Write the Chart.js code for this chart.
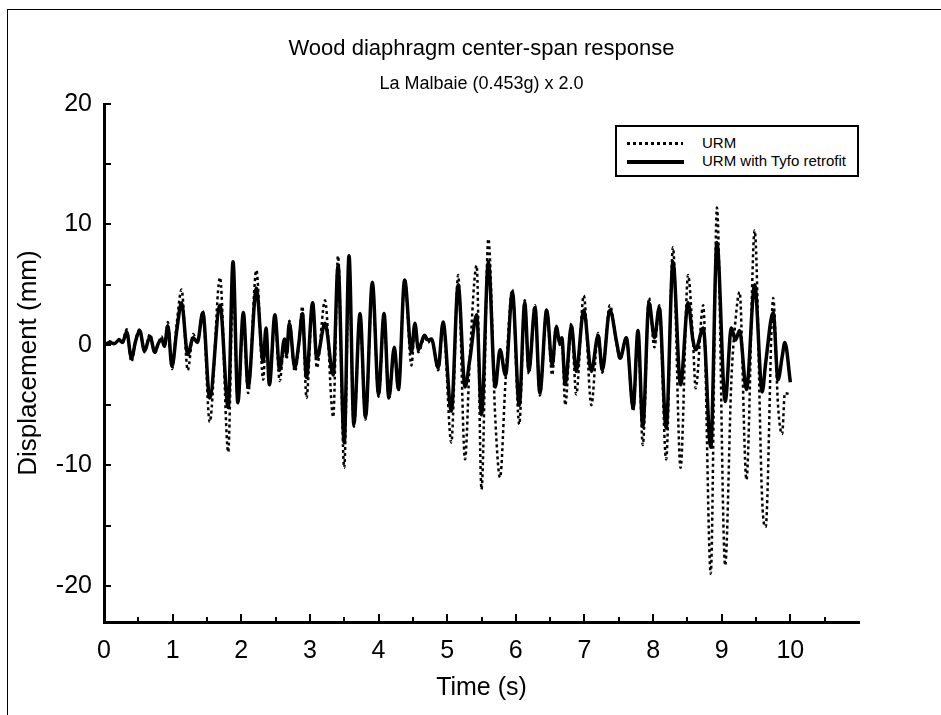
<!DOCTYPE html>
<html>
<head>
<meta charset="utf-8">
<script src="https://cdn.jsdelivr.net/npm/chart.js@4.4.1/dist/chart.umd.min.js"></script>
<style>
  html, body { margin: 0; padding: 0; background: #fff; }
  #wrap { position: relative; width: 941px; height: 715px; overflow: hidden; }
  #frame { position: absolute; left: 7px; top: 9px; width: 960px; height: 730px; border-left: 1px solid #000; border-top: 1px solid #000; pointer-events: none; }
  #legend { position: absolute; left: 615px; top: 125px; width: 244px; height: 52px; box-sizing: border-box; border: 2px solid #000; background: #fff;
            font: 15px "Liberation Sans", Arial, sans-serif; color: #000; }
  #legend .row { position: absolute; left: 0; height: 18px; line-height: 18px; }
  #legend .sw { position: absolute; left: 10px; top: 8px; width: 56px; }
  #legend .dot { background: repeating-linear-gradient(to right, #000 0 3px, transparent 3px 6px); height: 3px; }
  #legend .solid { background: #000; height: 4px; width: 57px; }
  #legend .txt { position: absolute; left: 85px; top: 0; white-space: nowrap; }
</style>
</head>
<body>
<div id="wrap">
  <canvas id="chart" width="941" height="715"></canvas>
  <div id="frame"></div>
  <div id="legend">
    <div class="row" style="top:7px"><span class="sw dot"></span><span class="txt">URM</span></div>
    <div class="row" style="top:25px"><span class="sw solid"></span><span class="txt">URM with Tyfo retrofit</span></div>
  </div>
</div>
<script>
// time (s) of the turning points
var time = [0.00, 0.08, 0.15, 0.22, 0.27, 0.33, 0.40, 0.46, 0.52, 0.59, 0.67, 0.74, 0.79, 0.84, 0.88, 0.93, 0.99,
  1.06, 1.13, 1.22, 1.30, 1.36, 1.44, 1.54, 1.69, 1.81, 1.88, 1.95, 2.03, 2.10, 2.22, 2.32, 2.36, 2.41, 2.49,
  2.56, 2.63, 2.66, 2.70, 2.78, 2.84, 2.89, 2.95, 3.04, 3.10, 3.22, 3.34, 3.41, 3.50, 3.57, 3.64, 3.73, 3.81,
  3.91, 4.00, 4.08, 4.15, 4.23, 4.29, 4.38, 4.48, 4.53, 4.58, 4.67, 4.72, 4.77, 4.87, 4.94, 5.06, 5.16, 5.26,
  5.33, 5.43, 5.50, 5.60, 5.70, 5.77, 5.85, 5.95, 6.05, 6.13, 6.19, 6.28, 6.35, 6.45, 6.53, 6.59, 6.64, 6.67,
  6.72, 6.81, 6.88, 6.99, 7.10, 7.20, 7.26, 7.37, 7.47, 7.52, 7.61, 7.71, 7.78, 7.85, 7.94, 8.02, 8.09, 8.19,
  8.29, 8.40, 8.51, 8.58, 8.62, 8.73, 8.84, 8.93, 9.05, 9.14, 9.20, 9.26, 9.36, 9.48, 9.59, 9.64, 9.75, 9.82,
  9.88, 9.92, 10.00];

// URM displacement (mm)
var urm = [0.0, 0.3, 0.1, 0.5, 0.2, 1.3, -1.4, 0.4, 1.3, -0.6, 0.9, -0.7, 0.1, 0.7, -0.2, 1.9, -2.0,
  1.8, 4.6, -2.1, 0.9, 0.2, 2.8, -6.4, 5.6, -8.9, 5.2, -4.6, 2.0, -4.0, 6.2, -2.9, 1.0, -3.0, 2.2,
  -3.0, 0.3, -1.2, 2.0, -2.2, 0.0, 3.2, -4.4, 3.5, -1.9, 3.7, -6.0, 7.4, -10.2, 6.5, -6.8, 2.4, -6.2,
  5.0, -4.3, 2.4, -4.5, -0.4, -3.8, 5.5, -1.7, 1.6, -0.6, 0.6, 0.2, 0.5, -2.1, 1.9, -8.1, 5.8, -9.5,
  -1.0, 6.6, -12.0, 8.8, -6.0, -11.0, -3.0, 4.6, -6.6, 3.7, -2.4, 3.3, -4.2, 3.0, -2.5, 1.6, 0.0, 0.6,
  -5.0, 1.8, -4.1, 4.1, -5.0, 1.0, -2.3, 3.3, 0.0, -1.2, 0.6, -5.5, 1.2, -8.3, 3.9, -0.2, 3.3, -9.5,
  8.1, -10.2, 5.8, 0.5, -3.6, 3.3, -19.0, 11.4, -18.3, -3.0, 2.0, 4.4, -11.2, 9.5, -13.0, -15.1, 3.9, -5.0,
  -7.4, -4.0, -4.1];

// URM with Tyfo retrofit displacement (mm)
var tyfo = [0.0, 0.2, 0.1, 0.4, 0.2, 1.1, -1.1, 0.3, 1.2, -0.5, 0.7, -0.6, 0.1, 0.5, -0.1, 1.6, -1.8,
  1.2, 3.5, -0.8, 0.6, 0.2, 2.7, -4.4, 3.3, -5.2, 6.9, -4.8, 2.7, -3.5, 4.7, -1.4, 1.4, -3.3, 2.5,
  -2.1, 0.5, -0.8, 1.8, -1.9, 0.2, 2.6, -2.7, 3.5, -1.1, 1.8, -2.5, 6.6, -8.1, 7.4, -6.6, 2.6, -6.0,
  5.2, -4.1, 2.6, -4.4, -0.2, -3.7, 5.4, -0.6, 1.8, -0.4, 0.8, 0.4, 0.5, -1.9, 1.9, -5.5, 5.0, -3.5,
  -1.2, 2.5, -5.8, 6.9, -3.5, -0.4, -2.5, 4.4, -5.0, 3.5, -2.1, 3.1, -4.0, 2.9, -1.7, 1.5, 0.2, 0.6,
  -3.3, 1.6, -2.2, 2.9, -2.2, 0.8, -2.1, 2.9, 0.2, -1.1, 0.6, -5.2, 1.2, -6.8, 3.5, 0.6, 3.1, -6.9,
  6.9, -3.3, 3.5, 0.4, -0.4, 1.4, -8.5, 8.5, -4.7, 1.4, 0.4, 1.2, -3.7, 5.0, -3.9, -1.5, 2.7, -2.9,
  -1.0, 0.2, -3.1];

var xLabels = [0, 1, 2, 3, 4, 5, 6, 7, 8, 9, 10];
var xMarks = [0.5, 1, 1.5, 2, 2.5, 3, 3.5, 4, 4.5, 5, 5.5, 6, 6.5, 7, 7.5, 8, 8.5, 9, 9.5, 10, 10.5];
var yLabels = [-20, -10, 0, 10, 20];
var yMarks = [-20, -15, -10, -5, 0, 5, 10, 15, 20];

function pts(ys) {
  return time.map(function (t, i) { return {x: t, y: ys[i]}; });
}

// small tick marks pointing into the plot
var inwardTicks = {
  id: 'inwardTicks',
  afterDraw: function (chart) {
    var ctx = chart.ctx, x = chart.scales.x, y = chart.scales.y;
    ctx.save();
    ctx.strokeStyle = '#000';
    ctx.lineWidth = 2;
    ctx.beginPath();
    xMarks.forEach(function (v) {
      var px = Math.round(x.getPixelForValue(v));
      var len = Number.isInteger(v) ? 8 : 5;
      ctx.moveTo(px, y.bottom);
      ctx.lineTo(px, y.bottom - len);
    });
    yMarks.forEach(function (v) {
      var py = Math.round(y.getPixelForValue(v));
      ctx.moveTo(x.left, py);
      ctx.lineTo(x.left + 7, py);
    });
    ctx.stroke();
    ctx.restore();
  }
};

var font = '"Liberation Sans", Arial, sans-serif';

new Chart(document.getElementById('chart').getContext('2d'), {
  type: 'line',
  data: {
    datasets: [{
      label: 'URM with Tyfo retrofit',
      data: pts(tyfo),
      borderColor: '#000',
      borderWidth: 3.5,
      pointRadius: 0,
      cubicInterpolationMode: 'monotone',
      fill: false,
      order: 0
    }, {
      label: 'URM',
      data: pts(urm),
      borderColor: '#000',
      borderWidth: 2.5,
      borderDash: [3, 3],
      pointRadius: 0,
      cubicInterpolationMode: 'monotone',
      fill: false,
      order: 1
    }]
  },
  options: {
    responsive: false,
    animation: false,
    devicePixelRatio: 1,
    layout: { padding: { left: 0, right: 82, top: 0, bottom: 0 } },
    plugins: {
      legend: { display: false },
      tooltip: { enabled: false },
      title: {
        display: true,
        fullSize: false,
        text: 'Wood diaphragm center-span response',
        color: '#000',
        font: { family: font, size: 22, weight: 'normal' },
        padding: { top: 36, bottom: 11 }
      },
      subtitle: {
        display: true,
        fullSize: false,
        text: 'La Malbaie (0.453g) x 2.0',
        color: '#000',
        font: { family: font, size: 18, weight: 'normal' },
        padding: { top: 0, bottom: 9 }
      }
    },
    scales: {
      x: {
        type: 'linear',
        min: 0,
        max: 11,
        afterFit: function (s) { s.height = 93; },
        afterBuildTicks: function (s) { s.ticks = xLabels.map(function (v) { return {value: v}; }); },
        grid: { display: false, drawTicks: false },
        border: { display: true, color: '#000', width: 3 },
        ticks: { color: '#000', padding: 14, maxRotation: 0, autoSkip: false, font: { family: font, size: 25 } },
        title: { display: true, text: 'Time (s)', color: '#000', font: { family: font, size: 25 }, padding: { top: 0, bottom: 12 } }
      },
      y: {
        type: 'linear',
        min: -23,
        max: 20,
        afterFit: function (s) { s.width = 104; },
        afterBuildTicks: function (s) { s.ticks = yLabels.map(function (v) { return {value: v}; }); },
        grid: { display: false, drawTicks: false },
        border: { display: true, color: '#000', width: 3 },
        ticks: { color: '#000', padding: 12, autoSkip: false, font: { family: font, size: 25 } },
        title: { display: true, text: 'Displacement (mm)', color: '#000', font: { family: font, size: 26 }, padding: { top: 13, bottom: 0 } }
      }
    }
  },
  plugins: [inwardTicks]
});
</script>
</body>
</html>
